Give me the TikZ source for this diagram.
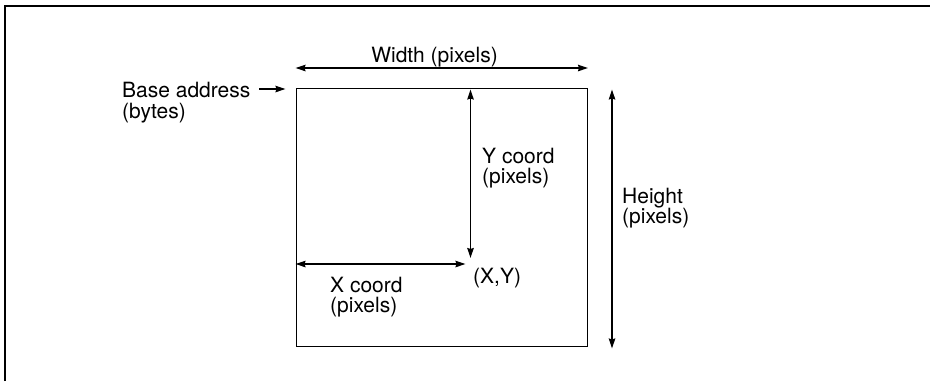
\documentclass[tikz,border=0pt]{standalone}
\usepackage{fontspec}
\setmainfont{TeX Gyre Heros}
\usetikzlibrary{arrows.meta}
\begin{document}
\begin{tikzpicture}[x=1pt,y=-1pt,
  lbl/.style={inner sep=0pt,align=left,font=\fontsize{21}{20.5}\selectfont},
  dim/.style={line width=1.3pt,{Stealth[length=10pt,width=6.5pt,inset=1pt]}-{Stealth[length=10pt,width=6.5pt,inset=1pt]}},
  ptr/.style={line width=1.3pt,-{Stealth[length=10pt,width=6.5pt,inset=1pt]}}]
\useasboundingbox (0,0) rectangle (930,381);
% page frame (top and left edges only)
\draw[line width=2pt] (4.5,381) -- (4.5,5.5) -- (930,5.5);
% the bitmap rectangle
\node[draw,line width=1.5pt,inner sep=0pt,minimum width=291pt,minimum height=258pt,anchor=north west]
  (buf) at (295.5,87.5) {};
% the addressed pixel
\coordinate (pt) at (470.5,264);
% labels
\node[lbl,anchor=base] (wlab) at (434.5,62) {Width (pixels)};
\node[lbl,anchor=north west] (blab) at (122,82) {Base address\\(bytes)};
\node[lbl,anchor=north west] (ylab) at (482,147.7) {Y coord\\(pixels)};
\node[lbl,anchor=north west] (hlab) at (622,187.7) {Height\\(pixels)};
\node[lbl,anchor=north west] (xlab) at (330,276.7) {X coord\\(pixels)};
\node[lbl,anchor=base west] (plab) at (473,283) {(X,Y)};
% dimension arrows
\draw[dim] ([yshift=19.5pt]buf.north west) -- ([yshift=19.5pt]buf.north east);
\draw[dim] ([xshift=24pt,yshift=-2pt]buf.north east) -- ([xshift=24pt,yshift=-1.5pt]buf.south east);
\draw[dim] ([yshift=-2pt]pt |- buf.north) -- ([yshift=6pt]pt);
\draw[dim] (pt -| buf.west) -- ([xshift=-5pt]pt);
% base address pointer
\coordinate (bstart) at (259,89);
\draw[ptr] (bstart) -- ([xshift=-10pt,yshift=-1.5pt]buf.north west);
\end{tikzpicture}
\end{document}
